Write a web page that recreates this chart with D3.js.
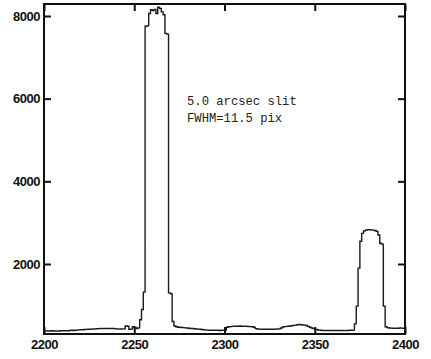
<!DOCTYPE html>
<html>
<head>
<meta charset="utf-8">
<script src="https://cdn.jsdelivr.net/npm/d3@7"></script>
<style>
  body { margin: 0; background: #fff; }
  .tick text { font-family: "Liberation Sans", Arial, sans-serif; font-weight: bold; font-size: 13px; letter-spacing: -0.5px; fill: #111; }
  .tick line { stroke: #111; stroke-width: 2; }
  .note { font-family: "Liberation Mono", "Courier New", monospace; font-size: 12.2px; fill: #222; }
</style>
</head>
<body>
<svg id="chart"></svg>
<script>
// chart size
var width = 431;
var height = 359;

// spectrum, one count value per pixel starting at firstPixel
var firstPixel = 2200;
var counts = [
  380,382,378,380,385,380,378,382,380,384,
  382,385,388,384,390,395,392,398,400,405,
  408,410,415,418,420,422,425,428,430,432,
  435,438,436,440,438,442,440,437,440,436,
  430,425,428,430,430,500,495,420,425,480,
  470,440,455,650,900,1320,7750,7760,8060,8150,
  8130,8160,8060,8210,8180,8100,8030,7580,7560,1300,
  1280,610,500,480,470,468,465,460,455,450,
  445,440,438,432,428,425,420,415,410,405,
  400,398,396,395,396,393,395,392,395,398,
  400,470,480,485,490,492,495,495,498,495,
  492,495,490,488,485,480,470,435,428,425,
  422,425,420,423,420,425,422,420,424,428,
  430,450,475,485,490,495,500,505,515,520,
  530,535,530,525,520,510,490,470,450,435,
  420,410,400,395,392,390,392,390,388,390,
  392,390,388,390,392,390,388,392,390,395,
  395,400,550,980,1900,2550,2740,2800,2820,2830,
  2830,2825,2820,2810,2790,2700,2500,2480,980,480,
  460,450,448,445,446,448,445,450,448,446,
  448
];

var xTicks = [2200, 2250, 2300, 2350, 2400];
var yTicks = [2000, 4000, 6000, 8000];
var noteLines = ["5.0 arcsec slit", "FWHM=11.5 pix"];

var data = counts.map(function(c, i) { return { pix: firstPixel + i, count: c }; });

// plot frame (pixel edges)
var frameLeft = 44, frameRight = 405, frameTop = 4, frameBottom = 334;

var x = d3.scaleLinear([2200, 2400], [frameLeft, frameRight]);
var y = d3.scaleLinear([306, 8290], [frameBottom, frameTop]);

var svg = d3.select('#chart')
  .attr('width', width)
  .attr('height', height);

// axes, ticks pointing inward on all four sides
svg.append('g')
  .attr('transform', 'translate(0,' + frameBottom + ')')
  .call(d3.axisBottom(x).tickValues(xTicks).tickSize(-7).tickPadding(6).tickFormat(d3.format('d')));

svg.append('g')
  .attr('transform', 'translate(0,' + frameTop + ')')
  .call(d3.axisTop(x).tickValues(xTicks).tickSize(-7).tickFormat(''));

svg.append('g')
  .attr('transform', 'translate(' + frameLeft + ',0)')
  .call(d3.axisLeft(y).tickValues(yTicks).tickSize(-7).tickPadding(4).tickFormat(d3.format('d')));

svg.append('g')
  .attr('transform', 'translate(' + frameRight + ',0)')
  .call(d3.axisRight(y).tickValues(yTicks).tickSize(-7).tickFormat(''));

svg.selectAll('.domain').remove();

// spectrum line
var line = d3.line()
  .x(function(d) { return x(d.pix); })
  .y(function(d) { return y(d.count); })
  .curve(d3.curveStepAfter);

svg.append('path')
  .datum(data)
  .attr('d', line)
  .attr('fill', 'none')
  .attr('stroke', '#1a1a1a')
  .attr('stroke-width', 1.4);

// frame
svg.append('rect')
  .attr('x', frameLeft)
  .attr('y', frameTop)
  .attr('width', frameRight - frameLeft)
  .attr('height', frameBottom - frameTop)
  .attr('fill', 'none')
  .attr('stroke', '#111')
  .attr('stroke-width', 2);

// annotation
svg.append('text')
  .attr('class', 'note')
  .attr('x', 187)
  .attr('y', 105)
  .selectAll('tspan')
  .data(noteLines)
  .enter()
  .append('tspan')
  .attr('x', 187)
  .attr('dy', function(d, i) { return i === 0 ? 0 : 17; })
  .text(function(d) { return d; });
</script>
</body>
</html>
